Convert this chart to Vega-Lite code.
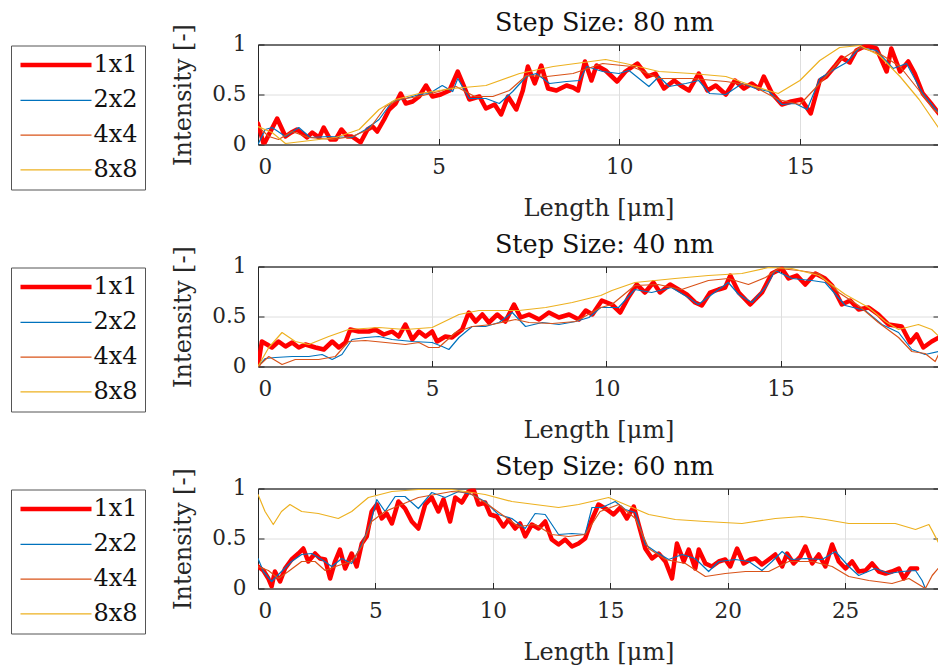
{
  "$schema": "https://vega.github.io/schema/vega-lite/v6.json",
  "background": "white",
  "padding": {"left": 10, "top": 10.5, "right": 0, "bottom": 0},
  "config": {
    "font": "DejaVu Serif",
    "view": {"stroke": "#262626", "strokeWidth": 1},
    "axis": {
      "labelFont": "DejaVu Serif", "titleFont": "DejaVu Serif",
      "labelFontSize": 21.5, "titleFontSize": 24, "titleFontWeight": "normal",
      "labelColor": "#262626", "titleColor": "#262626",
      "domainColor": "#262626", "tickColor": "#262626", "gridColor": "#dedede",
      "tickSize": -6, "labelPadding": 18, "titlePadding": 18.5
    },
    "axisY": {"labelPadding": 18, "titlePadding": 16},
    "title": {"font": "DejaVu Serif", "fontSize": 25.5, "fontWeight": "normal", "color": "#111", "offset": -13, "dx": 6},
    "legend": {
      "orient": "none", "legendX": -247, "legendY": 1,
      "labelFont": "DejaVu Serif", "labelFontSize": 24, "labelColor": "#111", "labelLimit": 200,
      "symbolType": "M-3.55,0H3.55", "symbolSize": 400, "symbolOffset": 25.5, "labelOffset": 25,
      "padding": 7, "rowPadding": 10.8, "fillColor": "white", "strokeColor": "#555"
    },
    "line": {"strokeJoin": "round", "strokeCap": "round"}
  },
  "datasets": {
    "p1": [
      {"s":"1x1","x":0,"y":0.21},{"s":"1x1","x":0.16,"y":0.0},{"s":"1x1","x":0.53,"y":0.26},{"s":"1x1","x":0.76,"y":0.08},{"s":"1x1","x":0.92,"y":0.12},{"s":"1x1","x":1.08,"y":0.15},{"s":"1x1","x":1.36,"y":0.07},{"s":"1x1","x":1.5,"y":0.12},{"s":"1x1","x":1.69,"y":0.07},{"s":"1x1","x":1.82,"y":0.17},{"s":"1x1","x":2.0,"y":0.05},{"s":"1x1","x":2.15,"y":0.05},{"s":"1x1","x":2.31,"y":0.15},{"s":"1x1","x":2.47,"y":0.08},{"s":"1x1","x":2.6,"y":0.08},{"s":"1x1","x":2.84,"y":0.02},{"s":"1x1","x":3.03,"y":0.15},{"s":"1x1","x":3.17,"y":0.18},{"s":"1x1","x":3.3,"y":0.13},{"s":"1x1","x":3.49,"y":0.25},{"s":"1x1","x":3.63,"y":0.35},{"s":"1x1","x":3.81,"y":0.41},{"s":"1x1","x":3.95,"y":0.51},{"s":"1x1","x":4.09,"y":0.41},{"s":"1x1","x":4.28,"y":0.43},{"s":"1x1","x":4.46,"y":0.48},{"s":"1x1","x":4.65,"y":0.59},{"s":"1x1","x":4.83,"y":0.48},{"s":"1x1","x":5.06,"y":0.5},{"s":"1x1","x":5.3,"y":0.54},{"s":"1x1","x":5.53,"y":0.73},{"s":"1x1","x":5.67,"y":0.61},{"s":"1x1","x":5.85,"y":0.45},{"s":"1x1","x":6.13,"y":0.48},{"s":"1x1","x":6.31,"y":0.36},{"s":"1x1","x":6.55,"y":0.4},{"s":"1x1","x":6.73,"y":0.3},{"s":"1x1","x":6.92,"y":0.48},{"s":"1x1","x":7.15,"y":0.35},{"s":"1x1","x":7.33,"y":0.54},{"s":"1x1","x":7.47,"y":0.78},{"s":"1x1","x":7.66,"y":0.61},{"s":"1x1","x":7.84,"y":0.79},{"s":"1x1","x":8.03,"y":0.56},{"s":"1x1","x":8.26,"y":0.54},{"s":"1x1","x":8.54,"y":0.59},{"s":"1x1","x":8.72,"y":0.57},{"s":"1x1","x":8.86,"y":0.54},{"s":"1x1","x":9.05,"y":0.83},{"s":"1x1","x":9.23,"y":0.64},{"s":"1x1","x":9.37,"y":0.79},{"s":"1x1","x":9.62,"y":0.74},{"s":"1x1","x":9.94,"y":0.63},{"s":"1x1","x":10.17,"y":0.73},{"s":"1x1","x":10.5,"y":0.81},{"s":"1x1","x":10.78,"y":0.68},{"s":"1x1","x":11.0,"y":0.71},{"s":"1x1","x":11.24,"y":0.56},{"s":"1x1","x":11.52,"y":0.64},{"s":"1x1","x":11.7,"y":0.59},{"s":"1x1","x":11.93,"y":0.54},{"s":"1x1","x":12.2,"y":0.71},{"s":"1x1","x":12.44,"y":0.54},{"s":"1x1","x":12.67,"y":0.59},{"s":"1x1","x":12.95,"y":0.5},{"s":"1x1","x":13.2,"y":0.64},{"s":"1x1","x":13.45,"y":0.56},{"s":"1x1","x":13.67,"y":0.61},{"s":"1x1","x":13.86,"y":0.56},{"s":"1x1","x":14.0,"y":0.68},{"s":"1x1","x":14.23,"y":0.51},{"s":"1x1","x":14.5,"y":0.4},{"s":"1x1","x":14.76,"y":0.43},{"s":"1x1","x":15.04,"y":0.45},{"s":"1x1","x":15.3,"y":0.31},{"s":"1x1","x":15.55,"y":0.64},{"s":"1x1","x":15.73,"y":0.68},{"s":"1x1","x":15.96,"y":0.78},{"s":"1x1","x":16.15,"y":0.87},{"s":"1x1","x":16.38,"y":0.82},{"s":"1x1","x":16.56,"y":0.94},{"s":"1x1","x":16.84,"y":0.99},{"s":"1x1","x":17.12,"y":0.96},{"s":"1x1","x":17.4,"y":0.73},{"s":"1x1","x":17.53,"y":0.96},{"s":"1x1","x":17.77,"y":0.73},{"s":"1x1","x":18.0,"y":0.83},{"s":"1x1","x":18.18,"y":0.71},{"s":"1x1","x":18.4,"y":0.51},{"s":"1x1","x":18.63,"y":0.41},{"s":"1x1","x":18.85,"y":0.31},
      {"s":"2x2","x":0,"y":0.0},{"s":"2x2","x":0.2,"y":0.15},{"s":"2x2","x":0.39,"y":0.17},{"s":"2x2","x":0.76,"y":0.08},{"s":"2x2","x":1.13,"y":0.17},{"s":"2x2","x":1.45,"y":0.07},{"s":"2x2","x":1.96,"y":0.08},{"s":"2x2","x":2.6,"y":0.07},{"s":"2x2","x":2.98,"y":0.15},{"s":"2x2","x":3.35,"y":0.25},{"s":"2x2","x":3.72,"y":0.43},{"s":"2x2","x":4.09,"y":0.46},{"s":"2x2","x":4.46,"y":0.5},{"s":"2x2","x":4.74,"y":0.51},{"s":"2x2","x":5.1,"y":0.59},{"s":"2x2","x":5.39,"y":0.53},{"s":"2x2","x":5.53,"y":0.66},{"s":"2x2","x":5.85,"y":0.46},{"s":"2x2","x":6.31,"y":0.46},{"s":"2x2","x":6.68,"y":0.41},{"s":"2x2","x":7.05,"y":0.53},{"s":"2x2","x":7.43,"y":0.68},{"s":"2x2","x":7.7,"y":0.71},{"s":"2x2","x":8.07,"y":0.61},{"s":"2x2","x":8.54,"y":0.63},{"s":"2x2","x":8.9,"y":0.64},{"s":"2x2","x":9.1,"y":0.78},{"s":"2x2","x":9.54,"y":0.73},{"s":"2x2","x":9.99,"y":0.71},{"s":"2x2","x":10.27,"y":0.74},{"s":"2x2","x":10.82,"y":0.58},{"s":"2x2","x":11.1,"y":0.68},{"s":"2x2","x":11.38,"y":0.58},{"s":"2x2","x":11.84,"y":0.61},{"s":"2x2","x":12.2,"y":0.64},{"s":"2x2","x":12.5,"y":0.51},{"s":"2x2","x":12.95,"y":0.5},{"s":"2x2","x":13.4,"y":0.61},{"s":"2x2","x":13.77,"y":0.56},{"s":"2x2","x":14.14,"y":0.53},{"s":"2x2","x":14.5,"y":0.4},{"s":"2x2","x":14.87,"y":0.41},{"s":"2x2","x":15.2,"y":0.35},{"s":"2x2","x":15.55,"y":0.66},{"s":"2x2","x":15.9,"y":0.74},{"s":"2x2","x":16.29,"y":0.82},{"s":"2x2","x":16.66,"y":0.97},{"s":"2x2","x":17.12,"y":0.94},{"s":"2x2","x":17.58,"y":0.76},{"s":"2x2","x":17.95,"y":0.81},{"s":"2x2","x":18.4,"y":0.51},{"s":"2x2","x":18.85,"y":0.31},
      {"s":"4x4","x":0,"y":0.18},{"s":"4x4","x":0.3,"y":0.08},{"s":"4x4","x":0.57,"y":0.05},{"s":"4x4","x":0.94,"y":0.13},{"s":"4x4","x":1.4,"y":0.07},{"s":"4x4","x":2.06,"y":0.05},{"s":"4x4","x":2.6,"y":0.08},{"s":"4x4","x":3.07,"y":0.15},{"s":"4x4","x":3.54,"y":0.38},{"s":"4x4","x":3.9,"y":0.45},{"s":"4x4","x":4.46,"y":0.48},{"s":"4x4","x":5.0,"y":0.53},{"s":"4x4","x":5.48,"y":0.58},{"s":"4x4","x":6.0,"y":0.48},{"s":"4x4","x":6.5,"y":0.48},{"s":"4x4","x":6.96,"y":0.54},{"s":"4x4","x":7.43,"y":0.69},{"s":"4x4","x":8.0,"y":0.68},{"s":"4x4","x":8.72,"y":0.71},{"s":"4x4","x":9.54,"y":0.81},{"s":"4x4","x":10.35,"y":0.78},{"s":"4x4","x":11.1,"y":0.66},{"s":"4x4","x":12.0,"y":0.66},{"s":"4x4","x":12.95,"y":0.63},{"s":"4x4","x":13.67,"y":0.59},{"s":"4x4","x":14.4,"y":0.45},{"s":"4x4","x":15.0,"y":0.4},{"s":"4x4","x":15.55,"y":0.61},{"s":"4x4","x":16.1,"y":0.84},{"s":"4x4","x":16.66,"y":0.97},{"s":"4x4","x":17.2,"y":0.91},{"s":"4x4","x":17.77,"y":0.78},{"s":"4x4","x":18.3,"y":0.54},{"s":"4x4","x":18.7,"y":0.35},{"s":"4x4","x":18.85,"y":0.31},
      {"s":"8x8","x":0,"y":0.18},{"s":"8x8","x":0.39,"y":0.12},{"s":"8x8","x":0.76,"y":0.01},{"s":"8x8","x":1.22,"y":0.03},{"s":"8x8","x":2.15,"y":0.07},{"s":"8x8","x":2.8,"y":0.15},{"s":"8x8","x":3.35,"y":0.35},{"s":"8x8","x":3.81,"y":0.45},{"s":"8x8","x":4.46,"y":0.51},{"s":"8x8","x":5.39,"y":0.56},{"s":"8x8","x":6.31,"y":0.59},{"s":"8x8","x":7.24,"y":0.71},{"s":"8x8","x":8.17,"y":0.78},{"s":"8x8","x":9.0,"y":0.82},{"s":"8x8","x":9.62,"y":0.85},{"s":"8x8","x":10.17,"y":0.81},{"s":"8x8","x":11.1,"y":0.73},{"s":"8x8","x":12.0,"y":0.71},{"s":"8x8","x":12.95,"y":0.68},{"s":"8x8","x":13.67,"y":0.59},{"s":"8x8","x":14.4,"y":0.51},{"s":"8x8","x":15.0,"y":0.64},{"s":"8x8","x":15.55,"y":0.84},{"s":"8x8","x":16.1,"y":0.97},{"s":"8x8","x":16.66,"y":0.99},{"s":"8x8","x":17.2,"y":0.89},{"s":"8x8","x":17.77,"y":0.68},{"s":"8x8","x":18.3,"y":0.45},{"s":"8x8","x":18.85,"y":0.16}
    ],
    "p2": [
      {"s":"1x1","x":0,"y":0.0},{"s":"1x1","x":0.11,"y":0.25},{"s":"1x1","x":0.26,"y":0.22},{"s":"1x1","x":0.4,"y":0.19},{"s":"1x1","x":0.59,"y":0.25},{"s":"1x1","x":0.79,"y":0.2},{"s":"1x1","x":0.98,"y":0.24},{"s":"1x1","x":1.17,"y":0.19},{"s":"1x1","x":1.36,"y":0.22},{"s":"1x1","x":1.65,"y":0.19},{"s":"1x1","x":1.89,"y":0.17},{"s":"1x1","x":2.13,"y":0.25},{"s":"1x1","x":2.32,"y":0.19},{"s":"1x1","x":2.51,"y":0.24},{"s":"1x1","x":2.65,"y":0.37},{"s":"1x1","x":2.89,"y":0.35},{"s":"1x1","x":3.18,"y":0.35},{"s":"1x1","x":3.37,"y":0.37},{"s":"1x1","x":3.61,"y":0.32},{"s":"1x1","x":3.85,"y":0.35},{"s":"1x1","x":4.04,"y":0.3},{"s":"1x1","x":4.23,"y":0.42},{"s":"1x1","x":4.43,"y":0.27},{"s":"1x1","x":4.62,"y":0.35},{"s":"1x1","x":4.81,"y":0.3},{"s":"1x1","x":5.0,"y":0.35},{"s":"1x1","x":5.14,"y":0.25},{"s":"1x1","x":5.38,"y":0.3},{"s":"1x1","x":5.57,"y":0.29},{"s":"1x1","x":5.86,"y":0.37},{"s":"1x1","x":6.05,"y":0.54},{"s":"1x1","x":6.25,"y":0.45},{"s":"1x1","x":6.44,"y":0.52},{"s":"1x1","x":6.63,"y":0.44},{"s":"1x1","x":6.87,"y":0.52},{"s":"1x1","x":7.1,"y":0.45},{"s":"1x1","x":7.35,"y":0.62},{"s":"1x1","x":7.54,"y":0.49},{"s":"1x1","x":7.78,"y":0.52},{"s":"1x1","x":8.07,"y":0.47},{"s":"1x1","x":8.35,"y":0.54},{"s":"1x1","x":8.64,"y":0.49},{"s":"1x1","x":8.93,"y":0.52},{"s":"1x1","x":9.21,"y":0.47},{"s":"1x1","x":9.41,"y":0.56},{"s":"1x1","x":9.6,"y":0.52},{"s":"1x1","x":9.87,"y":0.66},{"s":"1x1","x":10.16,"y":0.62},{"s":"1x1","x":10.4,"y":0.54},{"s":"1x1","x":10.63,"y":0.69},{"s":"1x1","x":10.87,"y":0.82},{"s":"1x1","x":11.11,"y":0.74},{"s":"1x1","x":11.35,"y":0.84},{"s":"1x1","x":11.54,"y":0.74},{"s":"1x1","x":11.83,"y":0.82},{"s":"1x1","x":12.07,"y":0.77},{"s":"1x1","x":12.31,"y":0.72},{"s":"1x1","x":12.55,"y":0.64},{"s":"1x1","x":12.74,"y":0.61},{"s":"1x1","x":12.98,"y":0.74},{"s":"1x1","x":13.22,"y":0.77},{"s":"1x1","x":13.41,"y":0.79},{"s":"1x1","x":13.56,"y":0.91},{"s":"1x1","x":13.8,"y":0.74},{"s":"1x1","x":14.13,"y":0.62},{"s":"1x1","x":14.47,"y":0.74},{"s":"1x1","x":14.75,"y":0.93},{"s":"1x1","x":15.04,"y":0.98},{"s":"1x1","x":15.23,"y":0.88},{"s":"1x1","x":15.47,"y":0.91},{"s":"1x1","x":15.71,"y":0.82},{"s":"1x1","x":16.0,"y":0.93},{"s":"1x1","x":16.28,"y":0.88},{"s":"1x1","x":16.48,"y":0.81},{"s":"1x1","x":16.76,"y":0.62},{"s":"1x1","x":17.0,"y":0.66},{"s":"1x1","x":17.24,"y":0.57},{"s":"1x1","x":17.53,"y":0.59},{"s":"1x1","x":17.81,"y":0.52},{"s":"1x1","x":18.1,"y":0.42},{"s":"1x1","x":18.48,"y":0.4},{"s":"1x1","x":18.72,"y":0.24},{"s":"1x1","x":18.91,"y":0.32},{"s":"1x1","x":19.1,"y":0.19},{"s":"1x1","x":19.34,"y":0.25},{"s":"1x1","x":19.55,"y":0.29},
      {"s":"2x2","x":0,"y":0.0},{"s":"2x2","x":0.21,"y":0.08},{"s":"2x2","x":0.5,"y":0.09},{"s":"2x2","x":0.98,"y":0.1},{"s":"2x2","x":1.46,"y":0.1},{"s":"2x2","x":1.84,"y":0.12},{"s":"2x2","x":2.13,"y":0.07},{"s":"2x2","x":2.41,"y":0.12},{"s":"2x2","x":2.7,"y":0.27},{"s":"2x2","x":3.08,"y":0.29},{"s":"2x2","x":3.47,"y":0.3},{"s":"2x2","x":3.85,"y":0.27},{"s":"2x2","x":4.43,"y":0.25},{"s":"2x2","x":5.0,"y":0.24},{"s":"2x2","x":5.29,"y":0.2},{"s":"2x2","x":5.48,"y":0.17},{"s":"2x2","x":5.77,"y":0.29},{"s":"2x2","x":6.15,"y":0.4},{"s":"2x2","x":6.53,"y":0.4},{"s":"2x2","x":6.92,"y":0.44},{"s":"2x2","x":7.3,"y":0.54},{"s":"2x2","x":7.68,"y":0.4},{"s":"2x2","x":8.16,"y":0.44},{"s":"2x2","x":8.64,"y":0.42},{"s":"2x2","x":9.12,"y":0.45},{"s":"2x2","x":9.5,"y":0.49},{"s":"2x2","x":9.84,"y":0.59},{"s":"2x2","x":10.35,"y":0.59},{"s":"2x2","x":10.82,"y":0.77},{"s":"2x2","x":11.3,"y":0.74},{"s":"2x2","x":11.87,"y":0.79},{"s":"2x2","x":12.35,"y":0.69},{"s":"2x2","x":12.64,"y":0.62},{"s":"2x2","x":13.03,"y":0.72},{"s":"2x2","x":13.5,"y":0.84},{"s":"2x2","x":13.8,"y":0.72},{"s":"2x2","x":14.18,"y":0.64},{"s":"2x2","x":14.57,"y":0.79},{"s":"2x2","x":14.85,"y":0.96},{"s":"2x2","x":15.33,"y":0.88},{"s":"2x2","x":15.9,"y":0.86},{"s":"2x2","x":16.28,"y":0.84},{"s":"2x2","x":16.86,"y":0.61},{"s":"2x2","x":17.43,"y":0.56},{"s":"2x2","x":17.91,"y":0.42},{"s":"2x2","x":18.39,"y":0.34},{"s":"2x2","x":18.77,"y":0.17},{"s":"2x2","x":19.15,"y":0.12},{"s":"2x2","x":19.55,"y":0.15},
      {"s":"4x4","x":0,"y":0.0},{"s":"4x4","x":0.31,"y":0.1},{"s":"4x4","x":0.69,"y":0.02},{"s":"4x4","x":1.07,"y":0.07},{"s":"4x4","x":1.74,"y":0.07},{"s":"4x4","x":2.22,"y":0.1},{"s":"4x4","x":2.6,"y":0.25},{"s":"4x4","x":3.08,"y":0.26},{"s":"4x4","x":3.66,"y":0.24},{"s":"4x4","x":4.23,"y":0.22},{"s":"4x4","x":4.62,"y":0.24},{"s":"4x4","x":4.9,"y":0.19},{"s":"4x4","x":5.19,"y":0.19},{"s":"4x4","x":5.67,"y":0.34},{"s":"4x4","x":6.15,"y":0.4},{"s":"4x4","x":6.72,"y":0.42},{"s":"4x4","x":7.39,"y":0.47},{"s":"4x4","x":7.78,"y":0.44},{"s":"4x4","x":8.45,"y":0.43},{"s":"4x4","x":9.12,"y":0.45},{"s":"4x4","x":9.84,"y":0.59},{"s":"4x4","x":10.16,"y":0.62},{"s":"4x4","x":10.82,"y":0.81},{"s":"4x4","x":11.49,"y":0.82},{"s":"4x4","x":12.16,"y":0.77},{"s":"4x4","x":12.93,"y":0.86},{"s":"4x4","x":13.5,"y":0.88},{"s":"4x4","x":14.08,"y":0.82},{"s":"4x4","x":14.57,"y":0.89},{"s":"4x4","x":14.95,"y":0.98},{"s":"4x4","x":15.52,"y":0.96},{"s":"4x4","x":16.1,"y":0.93},{"s":"4x4","x":16.67,"y":0.74},{"s":"4x4","x":17.24,"y":0.61},{"s":"4x4","x":17.81,"y":0.44},{"s":"4x4","x":18.39,"y":0.29},{"s":"4x4","x":18.77,"y":0.15},{"s":"4x4","x":19.15,"y":0.13},{"s":"4x4","x":19.44,"y":0.05},{"s":"4x4","x":19.55,"y":0.13},
      {"s":"8x8","x":0,"y":0.0},{"s":"8x8","x":0.31,"y":0.19},{"s":"8x8","x":0.69,"y":0.34},{"s":"8x8","x":1.07,"y":0.25},{"s":"8x8","x":1.46,"y":0.22},{"s":"8x8","x":2.03,"y":0.3},{"s":"8x8","x":2.6,"y":0.37},{"s":"8x8","x":3.47,"y":0.39},{"s":"8x8","x":4.23,"y":0.37},{"s":"8x8","x":5.0,"y":0.39},{"s":"8x8","x":5.77,"y":0.52},{"s":"8x8","x":6.34,"y":0.56},{"s":"8x8","x":7.49,"y":0.56},{"s":"8x8","x":8.26,"y":0.59},{"s":"8x8","x":9.02,"y":0.64},{"s":"8x8","x":9.84,"y":0.71},{"s":"8x8","x":10.16,"y":0.76},{"s":"8x8","x":10.82,"y":0.84},{"s":"8x8","x":11.97,"y":0.88},{"s":"8x8","x":12.93,"y":0.91},{"s":"8x8","x":13.89,"y":0.93},{"s":"8x8","x":14.66,"y":0.99},{"s":"8x8","x":15.33,"y":0.98},{"s":"8x8","x":16.1,"y":0.91},{"s":"8x8","x":16.86,"y":0.72},{"s":"8x8","x":17.53,"y":0.59},{"s":"8x8","x":18.01,"y":0.45},{"s":"8x8","x":18.39,"y":0.37},{"s":"8x8","x":18.96,"y":0.42},{"s":"8x8","x":19.34,"y":0.37},{"s":"8x8","x":19.55,"y":0.3}
    ],
    "p3": [
      {"s":"1x1","x":0,"y":0.22},{"s":"1x1","x":0.23,"y":0.18},{"s":"1x1","x":0.44,"y":0.1},{"s":"1x1","x":0.58,"y":0.02},{"s":"1x1","x":0.72,"y":0.17},{"s":"1x1","x":0.94,"y":0.07},{"s":"1x1","x":1.15,"y":0.2},{"s":"1x1","x":1.43,"y":0.29},{"s":"1x1","x":1.72,"y":0.35},{"s":"1x1","x":1.93,"y":0.4},{"s":"1x1","x":2.14,"y":0.27},{"s":"1x1","x":2.43,"y":0.35},{"s":"1x1","x":2.64,"y":0.3},{"s":"1x1","x":2.86,"y":0.29},{"s":"1x1","x":3.07,"y":0.1},{"s":"1x1","x":3.28,"y":0.27},{"s":"1x1","x":3.49,"y":0.39},{"s":"1x1","x":3.71,"y":0.2},{"s":"1x1","x":3.99,"y":0.35},{"s":"1x1","x":4.2,"y":0.22},{"s":"1x1","x":4.42,"y":0.45},{"s":"1x1","x":4.63,"y":0.52},{"s":"1x1","x":4.84,"y":0.77},{"s":"1x1","x":5.06,"y":0.84},{"s":"1x1","x":5.27,"y":0.7},{"s":"1x1","x":5.48,"y":0.75},{"s":"1x1","x":5.7,"y":0.65},{"s":"1x1","x":5.98,"y":0.87},{"s":"1x1","x":6.26,"y":0.8},{"s":"1x1","x":6.55,"y":0.67},{"s":"1x1","x":6.83,"y":0.6},{"s":"1x1","x":7.12,"y":0.84},{"s":"1x1","x":7.4,"y":0.91},{"s":"1x1","x":7.68,"y":0.77},{"s":"1x1","x":7.9,"y":0.89},{"s":"1x1","x":8.18,"y":0.67},{"s":"1x1","x":8.4,"y":0.91},{"s":"1x1","x":8.68,"y":0.86},{"s":"1x1","x":8.96,"y":0.97},{"s":"1x1","x":9.18,"y":0.99},{"s":"1x1","x":9.39,"y":0.84},{"s":"1x1","x":9.67,"y":0.86},{"s":"1x1","x":9.89,"y":0.74},{"s":"1x1","x":10.17,"y":0.72},{"s":"1x1","x":10.45,"y":0.62},{"s":"1x1","x":10.67,"y":0.69},{"s":"1x1","x":10.95,"y":0.6},{"s":"1x1","x":11.16,"y":0.65},{"s":"1x1","x":11.38,"y":0.52},{"s":"1x1","x":11.66,"y":0.64},{"s":"1x1","x":11.95,"y":0.6},{"s":"1x1","x":12.23,"y":0.67},{"s":"1x1","x":12.51,"y":0.49},{"s":"1x1","x":12.8,"y":0.44},{"s":"1x1","x":13.08,"y":0.49},{"s":"1x1","x":13.37,"y":0.42},{"s":"1x1","x":13.65,"y":0.45},{"s":"1x1","x":13.93,"y":0.5},{"s":"1x1","x":14.22,"y":0.69},{"s":"1x1","x":14.5,"y":0.84},{"s":"1x1","x":14.86,"y":0.79},{"s":"1x1","x":15.14,"y":0.74},{"s":"1x1","x":15.43,"y":0.81},{"s":"1x1","x":15.71,"y":0.7},{"s":"1x1","x":16.0,"y":0.82},{"s":"1x1","x":16.21,"y":0.64},{"s":"1x1","x":16.49,"y":0.4},{"s":"1x1","x":16.78,"y":0.3},{"s":"1x1","x":17.06,"y":0.35},{"s":"1x1","x":17.35,"y":0.27},{"s":"1x1","x":17.63,"y":0.1},{"s":"1x1","x":17.84,"y":0.45},{"s":"1x1","x":18.13,"y":0.27},{"s":"1x1","x":18.34,"y":0.39},{"s":"1x1","x":18.62,"y":0.2},{"s":"1x1","x":18.77,"y":0.39},{"s":"1x1","x":19.05,"y":0.25},{"s":"1x1","x":19.33,"y":0.22},{"s":"1x1","x":19.62,"y":0.27},{"s":"1x1","x":19.9,"y":0.29},{"s":"1x1","x":20.11,"y":0.22},{"s":"1x1","x":20.4,"y":0.4},{"s":"1x1","x":20.68,"y":0.25},{"s":"1x1","x":20.97,"y":0.29},{"s":"1x1","x":21.18,"y":0.3},{"s":"1x1","x":21.46,"y":0.24},{"s":"1x1","x":21.75,"y":0.29},{"s":"1x1","x":22.03,"y":0.34},{"s":"1x1","x":22.32,"y":0.22},{"s":"1x1","x":22.53,"y":0.35},{"s":"1x1","x":22.81,"y":0.25},{"s":"1x1","x":23.1,"y":0.32},{"s":"1x1","x":23.31,"y":0.42},{"s":"1x1","x":23.6,"y":0.25},{"s":"1x1","x":23.88,"y":0.34},{"s":"1x1","x":24.16,"y":0.22},{"s":"1x1","x":24.45,"y":0.44},{"s":"1x1","x":24.73,"y":0.27},{"s":"1x1","x":25.02,"y":0.2},{"s":"1x1","x":25.3,"y":0.27},{"s":"1x1","x":25.58,"y":0.17},{"s":"1x1","x":25.87,"y":0.18},{"s":"1x1","x":26.15,"y":0.25},{"s":"1x1","x":26.44,"y":0.17},{"s":"1x1","x":26.72,"y":0.15},{"s":"1x1","x":27.0,"y":0.17},{"s":"1x1","x":27.29,"y":0.2},{"s":"1x1","x":27.5,"y":0.1},{"s":"1x1","x":27.79,"y":0.2},{"s":"1x1","x":28.07,"y":0.2},
      {"s":"2x2","x":0,"y":0.3},{"s":"2x2","x":0.23,"y":0.17},{"s":"2x2","x":0.58,"y":0.07},{"s":"2x2","x":1.0,"y":0.17},{"s":"2x2","x":1.43,"y":0.27},{"s":"2x2","x":1.86,"y":0.34},{"s":"2x2","x":2.29,"y":0.35},{"s":"2x2","x":2.71,"y":0.29},{"s":"2x2","x":3.14,"y":0.22},{"s":"2x2","x":3.57,"y":0.3},{"s":"2x2","x":3.99,"y":0.25},{"s":"2x2","x":4.42,"y":0.44},{"s":"2x2","x":4.77,"y":0.64},{"s":"2x2","x":5.06,"y":0.89},{"s":"2x2","x":5.41,"y":0.77},{"s":"2x2","x":5.84,"y":0.92},{"s":"2x2","x":6.26,"y":0.92},{"s":"2x2","x":6.83,"y":0.8},{"s":"2x2","x":7.4,"y":0.96},{"s":"2x2","x":7.97,"y":0.91},{"s":"2x2","x":8.54,"y":0.97},{"s":"2x2","x":9.1,"y":0.94},{"s":"2x2","x":9.67,"y":0.87},{"s":"2x2","x":10.24,"y":0.74},{"s":"2x2","x":10.81,"y":0.7},{"s":"2x2","x":11.38,"y":0.6},{"s":"2x2","x":11.8,"y":0.75},{"s":"2x2","x":12.23,"y":0.74},{"s":"2x2","x":12.8,"y":0.54},{"s":"2x2","x":13.37,"y":0.55},{"s":"2x2","x":13.93,"y":0.54},{"s":"2x2","x":14.22,"y":0.81},{"s":"2x2","x":14.65,"y":0.81},{"s":"2x2","x":15.21,"y":0.87},{"s":"2x2","x":15.64,"y":0.79},{"s":"2x2","x":16.07,"y":0.76},{"s":"2x2","x":16.49,"y":0.44},{"s":"2x2","x":16.92,"y":0.37},{"s":"2x2","x":17.49,"y":0.29},{"s":"2x2","x":18.06,"y":0.34},{"s":"2x2","x":18.62,"y":0.3},{"s":"2x2","x":19.19,"y":0.17},{"s":"2x2","x":19.62,"y":0.27},{"s":"2x2","x":20.33,"y":0.29},{"s":"2x2","x":20.9,"y":0.27},{"s":"2x2","x":21.46,"y":0.18},{"s":"2x2","x":21.89,"y":0.27},{"s":"2x2","x":22.32,"y":0.37},{"s":"2x2","x":22.74,"y":0.29},{"s":"2x2","x":23.31,"y":0.3},{"s":"2x2","x":24.02,"y":0.29},{"s":"2x2","x":24.59,"y":0.37},{"s":"2x2","x":25.16,"y":0.22},{"s":"2x2","x":25.58,"y":0.13},{"s":"2x2","x":26.29,"y":0.2},{"s":"2x2","x":26.86,"y":0.15},{"s":"2x2","x":27.43,"y":0.17},{"s":"2x2","x":28.0,"y":0.18},{"s":"2x2","x":28.28,"y":0.08},{"s":"2x2","x":28.42,"y":0.0},
      {"s":"4x4","x":0,"y":0.22},{"s":"4x4","x":0.44,"y":0.18},{"s":"4x4","x":0.87,"y":0.1},{"s":"4x4","x":1.29,"y":0.17},{"s":"4x4","x":1.86,"y":0.27},{"s":"4x4","x":2.43,"y":0.27},{"s":"4x4","x":2.86,"y":0.18},{"s":"4x4","x":3.42,"y":0.23},{"s":"4x4","x":3.99,"y":0.27},{"s":"4x4","x":4.42,"y":0.42},{"s":"4x4","x":4.84,"y":0.67},{"s":"4x4","x":5.41,"y":0.77},{"s":"4x4","x":6.12,"y":0.84},{"s":"4x4","x":6.83,"y":0.91},{"s":"4x4","x":7.54,"y":0.94},{"s":"4x4","x":8.25,"y":0.97},{"s":"4x4","x":8.96,"y":0.96},{"s":"4x4","x":9.67,"y":0.86},{"s":"4x4","x":10.38,"y":0.74},{"s":"4x4","x":11.09,"y":0.62},{"s":"4x4","x":11.8,"y":0.64},{"s":"4x4","x":12.51,"y":0.54},{"s":"4x4","x":13.22,"y":0.52},{"s":"4x4","x":13.93,"y":0.54},{"s":"4x4","x":14.57,"y":0.77},{"s":"4x4","x":15.36,"y":0.84},{"s":"4x4","x":16.07,"y":0.7},{"s":"4x4","x":16.64,"y":0.4},{"s":"4x4","x":17.35,"y":0.29},{"s":"4x4","x":18.2,"y":0.25},{"s":"4x4","x":19.05,"y":0.12},{"s":"4x4","x":19.9,"y":0.15},{"s":"4x4","x":20.76,"y":0.17},{"s":"4x4","x":21.75,"y":0.17},{"s":"4x4","x":22.6,"y":0.27},{"s":"4x4","x":23.6,"y":0.27},{"s":"4x4","x":24.45,"y":0.22},{"s":"4x4","x":25.16,"y":0.12},{"s":"4x4","x":26.01,"y":0.08},{"s":"4x4","x":27.0,"y":0.05},{"s":"4x4","x":27.72,"y":0.1},{"s":"4x4","x":28.42,"y":0.0},{"s":"4x4","x":28.71,"y":0.13},{"s":"4x4","x":29.0,"y":0.21},
      {"s":"8x8","x":0,"y":0.94},{"s":"8x8","x":0.3,"y":0.77},{"s":"8x8","x":0.65,"y":0.64},{"s":"8x8","x":1.0,"y":0.77},{"s":"8x8","x":1.36,"y":0.84},{"s":"8x8","x":1.86,"y":0.77},{"s":"8x8","x":2.57,"y":0.75},{"s":"8x8","x":3.42,"y":0.7},{"s":"8x8","x":3.99,"y":0.77},{"s":"8x8","x":4.7,"y":0.91},{"s":"8x8","x":5.7,"y":0.97},{"s":"8x8","x":6.83,"y":0.99},{"s":"8x8","x":8.25,"y":0.99},{"s":"8x8","x":9.67,"y":0.94},{"s":"8x8","x":10.81,"y":0.87},{"s":"8x8","x":11.8,"y":0.84},{"s":"8x8","x":12.8,"y":0.81},{"s":"8x8","x":13.65,"y":0.84},{"s":"8x8","x":14.57,"y":0.89},{"s":"8x8","x":14.93,"y":0.91},{"s":"8x8","x":15.64,"y":0.84},{"s":"8x8","x":16.64,"y":0.74},{"s":"8x8","x":17.77,"y":0.69},{"s":"8x8","x":19.05,"y":0.67},{"s":"8x8","x":20.61,"y":0.65},{"s":"8x8","x":22.03,"y":0.7},{"s":"8x8","x":23.17,"y":0.72},{"s":"8x8","x":24.16,"y":0.69},{"s":"8x8","x":25.16,"y":0.65},{"s":"8x8","x":26.29,"y":0.65},{"s":"8x8","x":27.14,"y":0.65},{"s":"8x8","x":28.0,"y":0.59},{"s":"8x8","x":28.57,"y":0.64},{"s":"8x8","x":29.0,"y":0.45}
    ]
  },
  "spacing": 11,
  "resolve": {"scale": {"x": "independent", "y": "independent", "color": "independent", "strokeWidth": "independent"}, "legend": {"color": "independent", "strokeWidth": "independent"}},
  "vconcat": [
    {
      "title": {"text": "Step Size: 80 nm"},
      "width": 681, "height": 100,
      "data": {"name": "p1"},
      "layer": [
        {"mark": {"type": "line", "clip": true},
         "encoding": {
           "x": {"field": "x", "type": "quantitative", "scale": {"domain": [0, 18.85], "nice": false, "zero": false}, "axis": {"values": [0, 5, 10, 15], "title": "Length [μm]", "grid": true}},
           "y": {"field": "y", "type": "quantitative", "scale": {"domain": [0, 1], "nice": false}, "axis": {"values": [0, 0.5, 1], "format": "~g", "title": "Intensity [-]", "grid": true}},
           "color": {"field": "s", "type": "nominal", "scale": {"domain": ["1x1", "2x2", "4x4", "8x8"], "range": ["#FF0000", "#0072BD", "#D95319", "#EDB120"]}, "legend": {"title": null}},
           "strokeWidth": {"field": "s", "type": "nominal", "scale": {"type": "ordinal", "domain": ["1x1", "2x2", "4x4", "8x8"], "range": [4.5, 1.2, 1.2, 1.2]}, "legend": {"title": null}}
         }},
        {"mark": {"type": "line", "opacity": 0},
         "encoding": {
           "x": {"field": "x", "type": "quantitative", "scale": {"domain": [0, 18.85], "nice": false, "zero": false}, "axis": {"orient": "top", "values": [0, 5, 10, 15], "labels": false, "title": null, "grid": false}},
           "y": {"field": "y", "type": "quantitative", "scale": {"domain": [0, 1], "nice": false}, "axis": {"orient": "right", "values": [0, 0.5, 1], "labels": false, "title": null, "grid": false}},
           "detail": {"field": "s"}
         }}
      ],
      "resolve": {"axis": {"x": "independent", "y": "independent"}}
    },
    {
      "title": {"text": "Step Size: 40 nm"},
      "width": 681, "height": 100,
      "data": {"name": "p2"},
      "layer": [
        {"mark": {"type": "line", "clip": true},
         "encoding": {
           "x": {"field": "x", "type": "quantitative", "scale": {"domain": [0, 19.55], "nice": false, "zero": false}, "axis": {"values": [0, 5, 10, 15], "title": "Length [μm]", "grid": true}},
           "y": {"field": "y", "type": "quantitative", "scale": {"domain": [0, 1], "nice": false}, "axis": {"values": [0, 0.5, 1], "format": "~g", "title": "Intensity [-]", "grid": true}},
           "color": {"field": "s", "type": "nominal", "scale": {"domain": ["1x1", "2x2", "4x4", "8x8"], "range": ["#FF0000", "#0072BD", "#D95319", "#EDB120"]}, "legend": {"title": null}},
           "strokeWidth": {"field": "s", "type": "nominal", "scale": {"type": "ordinal", "domain": ["1x1", "2x2", "4x4", "8x8"], "range": [4.5, 1.2, 1.2, 1.2]}, "legend": {"title": null}}
         }},
        {"mark": {"type": "line", "opacity": 0},
         "encoding": {
           "x": {"field": "x", "type": "quantitative", "scale": {"domain": [0, 19.55], "nice": false, "zero": false}, "axis": {"orient": "top", "values": [0, 5, 10, 15], "labels": false, "title": null, "grid": false}},
           "y": {"field": "y", "type": "quantitative", "scale": {"domain": [0, 1], "nice": false}, "axis": {"orient": "right", "values": [0, 0.5, 1], "labels": false, "title": null, "grid": false}},
           "detail": {"field": "s"}
         }}
      ],
      "resolve": {"axis": {"x": "independent", "y": "independent"}}
    },
    {
      "title": {"text": "Step Size: 60 nm"},
      "width": 681, "height": 100,
      "data": {"name": "p3"},
      "layer": [
        {"mark": {"type": "line", "clip": true},
         "encoding": {
           "x": {"field": "x", "type": "quantitative", "scale": {"domain": [0, 29], "nice": false, "zero": false}, "axis": {"values": [0, 5, 10, 15, 20, 25], "title": "Length [μm]", "grid": true}},
           "y": {"field": "y", "type": "quantitative", "scale": {"domain": [0, 1], "nice": false}, "axis": {"values": [0, 0.5, 1], "format": "~g", "title": "Intensity [-]", "grid": true}},
           "color": {"field": "s", "type": "nominal", "scale": {"domain": ["1x1", "2x2", "4x4", "8x8"], "range": ["#FF0000", "#0072BD", "#D95319", "#EDB120"]}, "legend": {"title": null}},
           "strokeWidth": {"field": "s", "type": "nominal", "scale": {"type": "ordinal", "domain": ["1x1", "2x2", "4x4", "8x8"], "range": [4.5, 1.2, 1.2, 1.2]}, "legend": {"title": null}}
         }},
        {"mark": {"type": "line", "opacity": 0},
         "encoding": {
           "x": {"field": "x", "type": "quantitative", "scale": {"domain": [0, 29], "nice": false, "zero": false}, "axis": {"orient": "top", "values": [0, 5, 10, 15, 20, 25], "labels": false, "title": null, "grid": false}},
           "y": {"field": "y", "type": "quantitative", "scale": {"domain": [0, 1], "nice": false}, "axis": {"orient": "right", "values": [0, 0.5, 1], "labels": false, "title": null, "grid": false}},
           "detail": {"field": "s"}
         }}
      ],
      "resolve": {"axis": {"x": "independent", "y": "independent"}}
    }
  ]
}
